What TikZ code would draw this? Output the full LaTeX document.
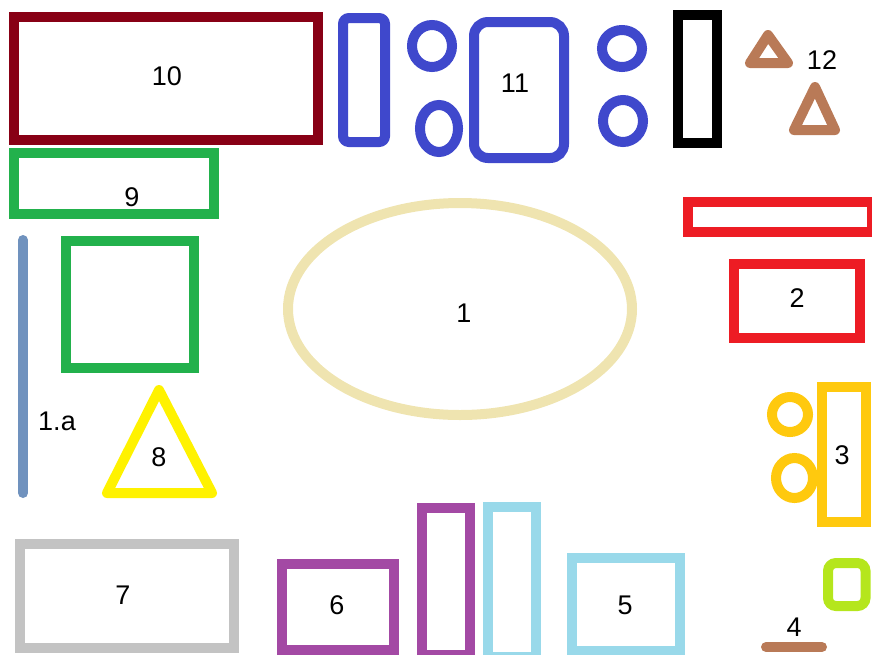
\documentclass[tikz,border=0pt]{standalone}
\usepackage{fontspec}
\setmainfont{Liberation Sans}
\usetikzlibrary{positioning}
\definecolor{pDarkRed}{HTML}{880015}
\definecolor{pGreen}{HTML}{22B14C}
\definecolor{pIndigo}{HTML}{3F48CC}
\definecolor{pBrown}{HTML}{B97A57}
\definecolor{pRed}{HTML}{ED1C24}
\definecolor{pOrange}{HTML}{FFC90E}
\definecolor{pLime}{HTML}{B5E61D}
\definecolor{pPurple}{HTML}{A349A4}
\definecolor{pTurq}{HTML}{99D9EA}
\definecolor{pGray}{HTML}{C3C3C3}
\definecolor{pYellow}{HTML}{FFF200}
\definecolor{pSteel}{HTML}{7092BE}
\definecolor{pTan}{HTML}{EFE4B0}
\tikzset{
  shp/.style ={line width=10pt},
  tri/.style ={line width=10pt,line join=round},
  bar/.style ={line width=10pt,line cap=round},
  lbl/.style ={font=\fontsize{27}{32}\selectfont,inner sep=0pt},
}

\begin{document}
\begin{tikzpicture}[x=1pt,y=-1pt]
  \useasboundingbox (0,0) rectangle (872,654);
  \clip (0,0) rectangle (872,654);

  % ---- TOP LEFT ----
  \draw[shp,pDarkRed] (13.7,16.7) rectangle (318,139.5);
  \node[lbl] (l10) at (167,76) {10};
  \draw[shp,pGreen] (13.7,153) rectangle (214,214);
  \node[lbl] (l9) at (132,197) {9};

  % ---- TOP: group 11 ----
  \draw[shp,pIndigo,rounded corners=6pt] (343,18) rectangle (385,142);
  \draw[shp,pIndigo] (432,46) ellipse [x radius=20,y radius=21];
  \draw[shp,pIndigo] (439,128.5) ellipse [x radius=19,y radius=23.5];
  \draw[shp,pIndigo,rounded corners=14pt] (474,22) rectangle (564,158);
  \node[lbl] (l11) at (515,83) {11};
  \draw[shp,pIndigo] (622,48.5) ellipse [x radius=20,y radius=18.5];
  \draw[shp,pIndigo] (623,121) ellipse [x radius=20,y radius=21];
  \draw[shp,black] (678,15) rectangle (716.5,143);

  % ---- TOP RIGHT: group 12 ----
  \draw[tri,pBrown] (768,35) -- (788,63) -- (750,63) -- cycle;
  \draw[tri,pBrown] (815,87) -- (835,130) -- (794,130) -- cycle;
  \node[lbl] (l12) at (822,60) {12};

  % ---- RIGHT ----
  \draw[shp,pRed] (688,201.5) rectangle (872,232);
  \draw[shp,pRed] (734,264) rectangle (860,338);
  \node[lbl] (l2) at (797,298) {2};
  \draw[shp,pOrange] (790,414.5) ellipse [x radius=18,y radius=17.5];
  \draw[shp,pOrange] (794.5,478) ellipse [x radius=18.5,y radius=20];
  \draw[shp,pOrange] (822,387) rectangle (865.5,522);
  \node[lbl] (l3) at (842,455) {3};
  \draw[shp,pLime,rounded corners=8pt] (828,563) rectangle (865.5,606);
  \draw[bar,pBrown] (766,647) -- (822,647);
  \node[lbl] (l4) at (794,627) {4};

  % ---- CENTRE ----
  \draw[shp,pTan] (460,309) ellipse [x radius=172,y radius=106];
  \node[lbl] (l1) at (464,313) {1};

  % ---- LEFT ----
  \draw[bar,pSteel] (23,240) -- (23,493);
  \node[lbl] (l1a) at (57,421) {1.a};
  \draw[shp,pGreen] (66,241) rectangle (194,368);
  \draw[tri,pYellow] (159,390) -- (212,493) -- (107,493) -- cycle;
  \node[lbl] (l8) at (159,457) {8};

  % ---- BOTTOM ----
  \draw[shp,pGray] (20,544) rectangle (234,648);
  \node[lbl] (l7) at (123,595) {7};
  \draw[shp,pPurple] (282,564) rectangle (394,650);
  \node[lbl] (l6) at (337,605) {6};
  \draw[shp,pPurple] (422,508) rectangle (470,655);
  \draw[shp,pTurq] (488,507) rectangle (536,657);
  \draw[shp,pTurq] (572,558) rectangle (680,651);
  \node[lbl] (l5) at (625,605) {5};
\end{tikzpicture}
\end{document}
